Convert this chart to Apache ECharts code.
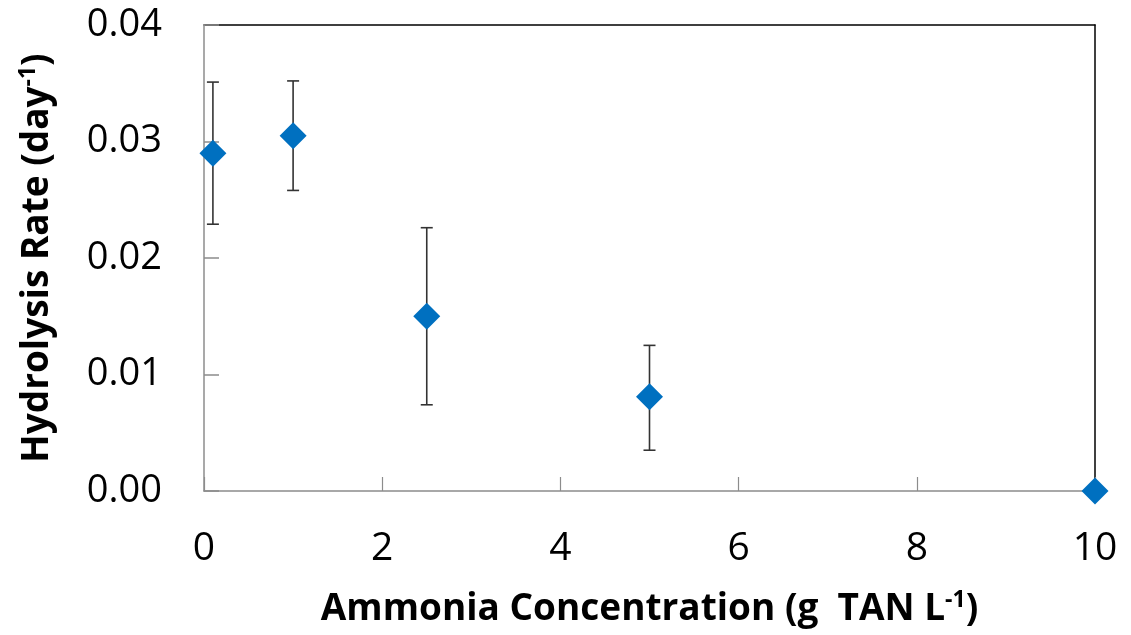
<!DOCTYPE html>
<html>
<head>
<meta charset="utf-8">
<script src="https://cdn.jsdelivr.net/npm/echarts@6/dist/echarts.min.js"></script>
<style>html,body{margin:0;padding:0;background:#fff}#c{width:1131px;height:635px}</style>
</head>
<body>
<div id="c"></div>
<script>
var concentrations = [0.1, 1, 2.5, 5, 10];
var hydrolysisRate = [0.029, 0.0305, 0.015, 0.0081, 0.0];
var errLow = [0.0229, 0.0258, 0.0074, 0.0035, 0.0];
var errHigh = [0.0351, 0.0352, 0.0226, 0.0125, 0.0];
var xTicks = [0, 2, 4, 6, 8, 10];
var yTicks = [0, 0.01, 0.02, 0.03, 0.04];

var chart = echarts.init(document.getElementById('c'));
var pts = concentrations.map(function (x, i) { return [x, hydrolysisRate[i]]; });
var errs = concentrations.map(function (x, i) { return [x, errLow[i], errHigh[i]]; });
var FONT = 'Open Sans';
var supStyle = { fontFamily: FONT, fontSize: 23, fontWeight: 'bold', color: '#000', verticalAlign: 'top', padding: [0, 0, 18, 0] };

chart.setOption({
  animation: false,
  grid: { left: 204, right: 36, top: 25, bottom: 144, containLabel: false },
  xAxis: [{
    type: 'value', min: xTicks[0], max: xTicks[xTicks.length - 1], interval: 2,
    name: 'Ammonia Concentration (g  TAN L{sup|-1})',
    nameLocation: 'middle', nameGap: 98,
    nameTextStyle: { fontFamily: FONT, fontSize: 37, fontWeight: 'bold', color: '#000', rich: { sup: supStyle } },
    axisLine: { show: true, onZero: false, lineStyle: { color: '#8c8c8c', width: 1.5 } },
    axisTick: { show: true, inside: true, length: 14, lineStyle: { color: '#8c8c8c', width: 1.2 } },
    axisLabel: { fontFamily: FONT, fontSize: 39, color: '#000', margin: 38 },
    splitLine: { show: false }
  }, {
    type: 'value', position: 'top', min: 0, max: 10, z: 0,
    axisLine: { show: true, onZero: false, lineStyle: { color: '#000', width: 1.5 } },
    axisTick: { show: false }, axisLabel: { show: false }, splitLine: { show: false }
  }],
  yAxis: [{
    type: 'value', min: yTicks[0], max: yTicks[yTicks.length - 1], interval: 0.01, z: 3,
    name: 'Hydrolysis Rate (day{sup|-1})',
    nameLocation: 'middle', nameGap: 146, nameRotate: 90,
    nameTextStyle: { fontFamily: FONT, fontSize: 37, fontWeight: 'bold', color: '#000', rich: { sup: supStyle } },
    axisLine: { show: true, onZero: false, lineStyle: { color: '#8c8c8c', width: 1.5 } },
    axisTick: { show: true, inside: true, length: 15, lineStyle: { color: '#8c8c8c', width: 1.5 } },
    axisLabel: { fontFamily: FONT, fontSize: 38, color: '#000', margin: 42,
      formatter: function (v) { return v.toFixed(2); } },
    splitLine: { show: false }
  }, {
    type: 'value', position: 'right', min: 0, max: 0.04, z: 0,
    axisLine: { show: true, onZero: false, lineStyle: { color: '#000', width: 1.5 } },
    axisTick: { show: false }, axisLabel: { show: false }, splitLine: { show: false }
  }],
  series: [{
    type: 'custom',
    z: 2,
    data: errs,
    renderItem: function (params, api) {
      var x = api.value(0), lo = api.value(1), hi = api.value(2);
      if (hi - lo <= 0) return null;
      var pHi = api.coord([x, hi]), pLo = api.coord([x, lo]);
      var w = 6;
      var st = { stroke: '#333', lineWidth: 1.6 };
      return { type: 'group', children: [
        { type: 'line', shape: { x1: pHi[0], y1: pHi[1], x2: pLo[0], y2: pLo[1] }, style: st },
        { type: 'line', shape: { x1: pHi[0] - w, y1: pHi[1], x2: pHi[0] + w, y2: pHi[1] }, style: st },
        { type: 'line', shape: { x1: pLo[0] - w, y1: pLo[1], x2: pLo[0] + w, y2: pLo[1] }, style: st }
      ] };
    }
  }, {
    type: 'scatter',
    z: 5,
    data: pts,
    symbol: 'diamond',
    symbolSize: [27, 27],
    itemStyle: { color: '#0070C0', opacity: 1 },
    clip: false
  }]
});
</script>
</body>
</html>
